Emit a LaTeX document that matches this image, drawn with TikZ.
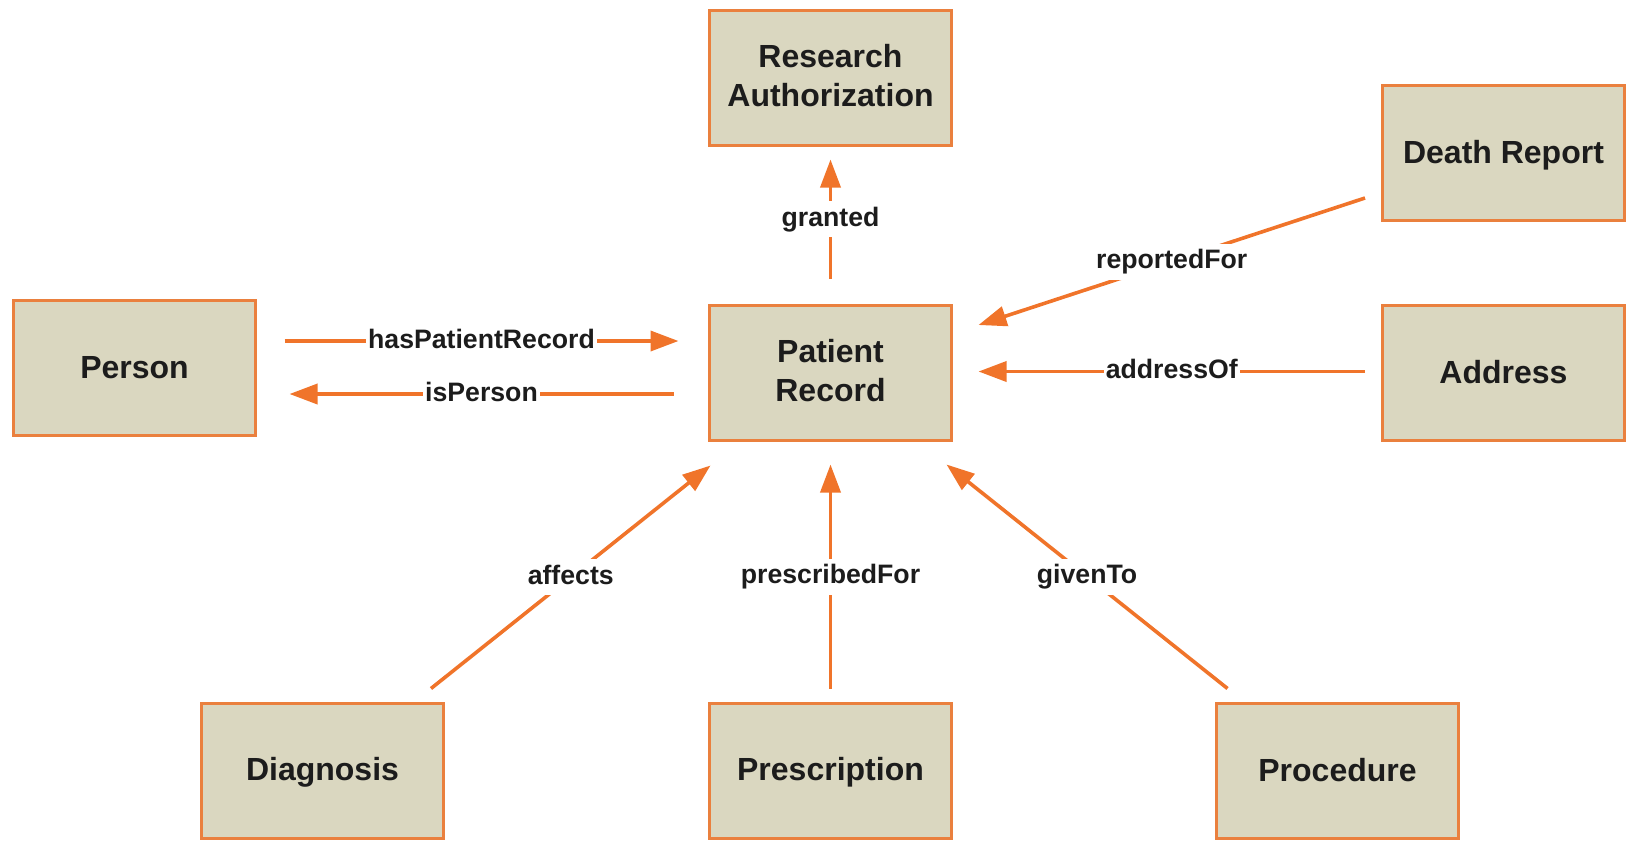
\documentclass[tikz,border=0pt]{standalone}
\usepackage{fontspec}
\setmainfont{Liberation Sans}
\usetikzlibrary{arrows.meta,calc}
\definecolor{boxfill}{RGB}{218,215,192}
\definecolor{boxline}{RGB}{234,128,62}
\definecolor{linkline}{RGB}{240,116,42}
\definecolor{inkdark}{RGB}{28,28,28}
\newcommand{\boxstrut}{\rule[-3pt]{0pt}{23pt}}
\tikzset{
  entity/.style={draw=boxline, fill=boxfill, line width=2.25pt, minimum width=181.5pt, minimum height=101.25pt,
    inner sep=0pt, align=center, text=inkdark, font=\fontsize{24}{29}\selectfont\bfseries,
    execute at begin node=\boxstrut, execute at end node=\boxstrut},
  link/.style={draw=linkline, line width=2.7pt, -{Triangle[length=21pt,width=15pt]}},
  rel/.style={fill=white, inner xsep=1.5pt, inner ysep=4pt, text height=15pt, text depth=4pt,
    text=inkdark, font=\fontsize{20}{24}\selectfont\bfseries}
}
\begin{document}
\begin{tikzpicture}[x=0.75pt,y=0.75pt,yscale=-1,xscale=1]
  \useasboundingbox (0,0) rectangle (1626,840);
  % entities
  \node[entity] (ra) at (830.5,77.5) {Research\\Authorization};
  \node[entity] (dr) at (1503.5,153) {Death Report};
  \node[entity] (person) at (134.5,367.5) {Person};
  \node[entity] (pr) at (830.5,372.5) {Patient\\Record};
  \node[entity] (addr) at (1503.5,372.5) {Address};
  \node[entity] (diag) at (322.5,770.5) {Diagnosis};
  \node[entity] (presc) at (830.5,770.5) {Prescription};
  \node[entity] (proc) at (1337.5,770.5) {Procedure};

  % relations
  \draw[link] ($(pr.north)+(0,-25)$) -- node[rel] {granted} ($(ra.south)+(0,13)$);
  \draw[link] ($(person.east)+(27.5,-26.5)$) -- node[rel] {hasPatientRecord} ($(pr.west)+(-29.5,-31.5)$);
  \draw[link] ($(pr.west)+(-34.5,21.5)$) -- node[rel] {isPerson} ($(person.east)+(32.5,26.5)$);
  \draw[link] ($(dr.west)+(-16,45)$) -- node[rel] {reportedFor} ($(pr.east)+(25.5,-47.5)$);
  \draw[link] ($(addr.west)+(-16,-1)$) -- node[rel] {addressOf} ($(pr.east)+(25.5,-1)$);
  \draw[link] ($(diag.north east)+(-14,-13)$) -- node[rel] {affects} ($(pr.south west)+(2.5,24)$);
  \draw[link] ($(presc.north)+(0,-13)$) -- node[rel] {prescribedFor} ($(pr.south)+(0,23)$);
  \draw[link] ($(proc.north west)+(12.5,-13)$) -- node[rel] {givenTo} ($(pr.south east)+(-6.5,23)$);
\end{tikzpicture}
\end{document}
